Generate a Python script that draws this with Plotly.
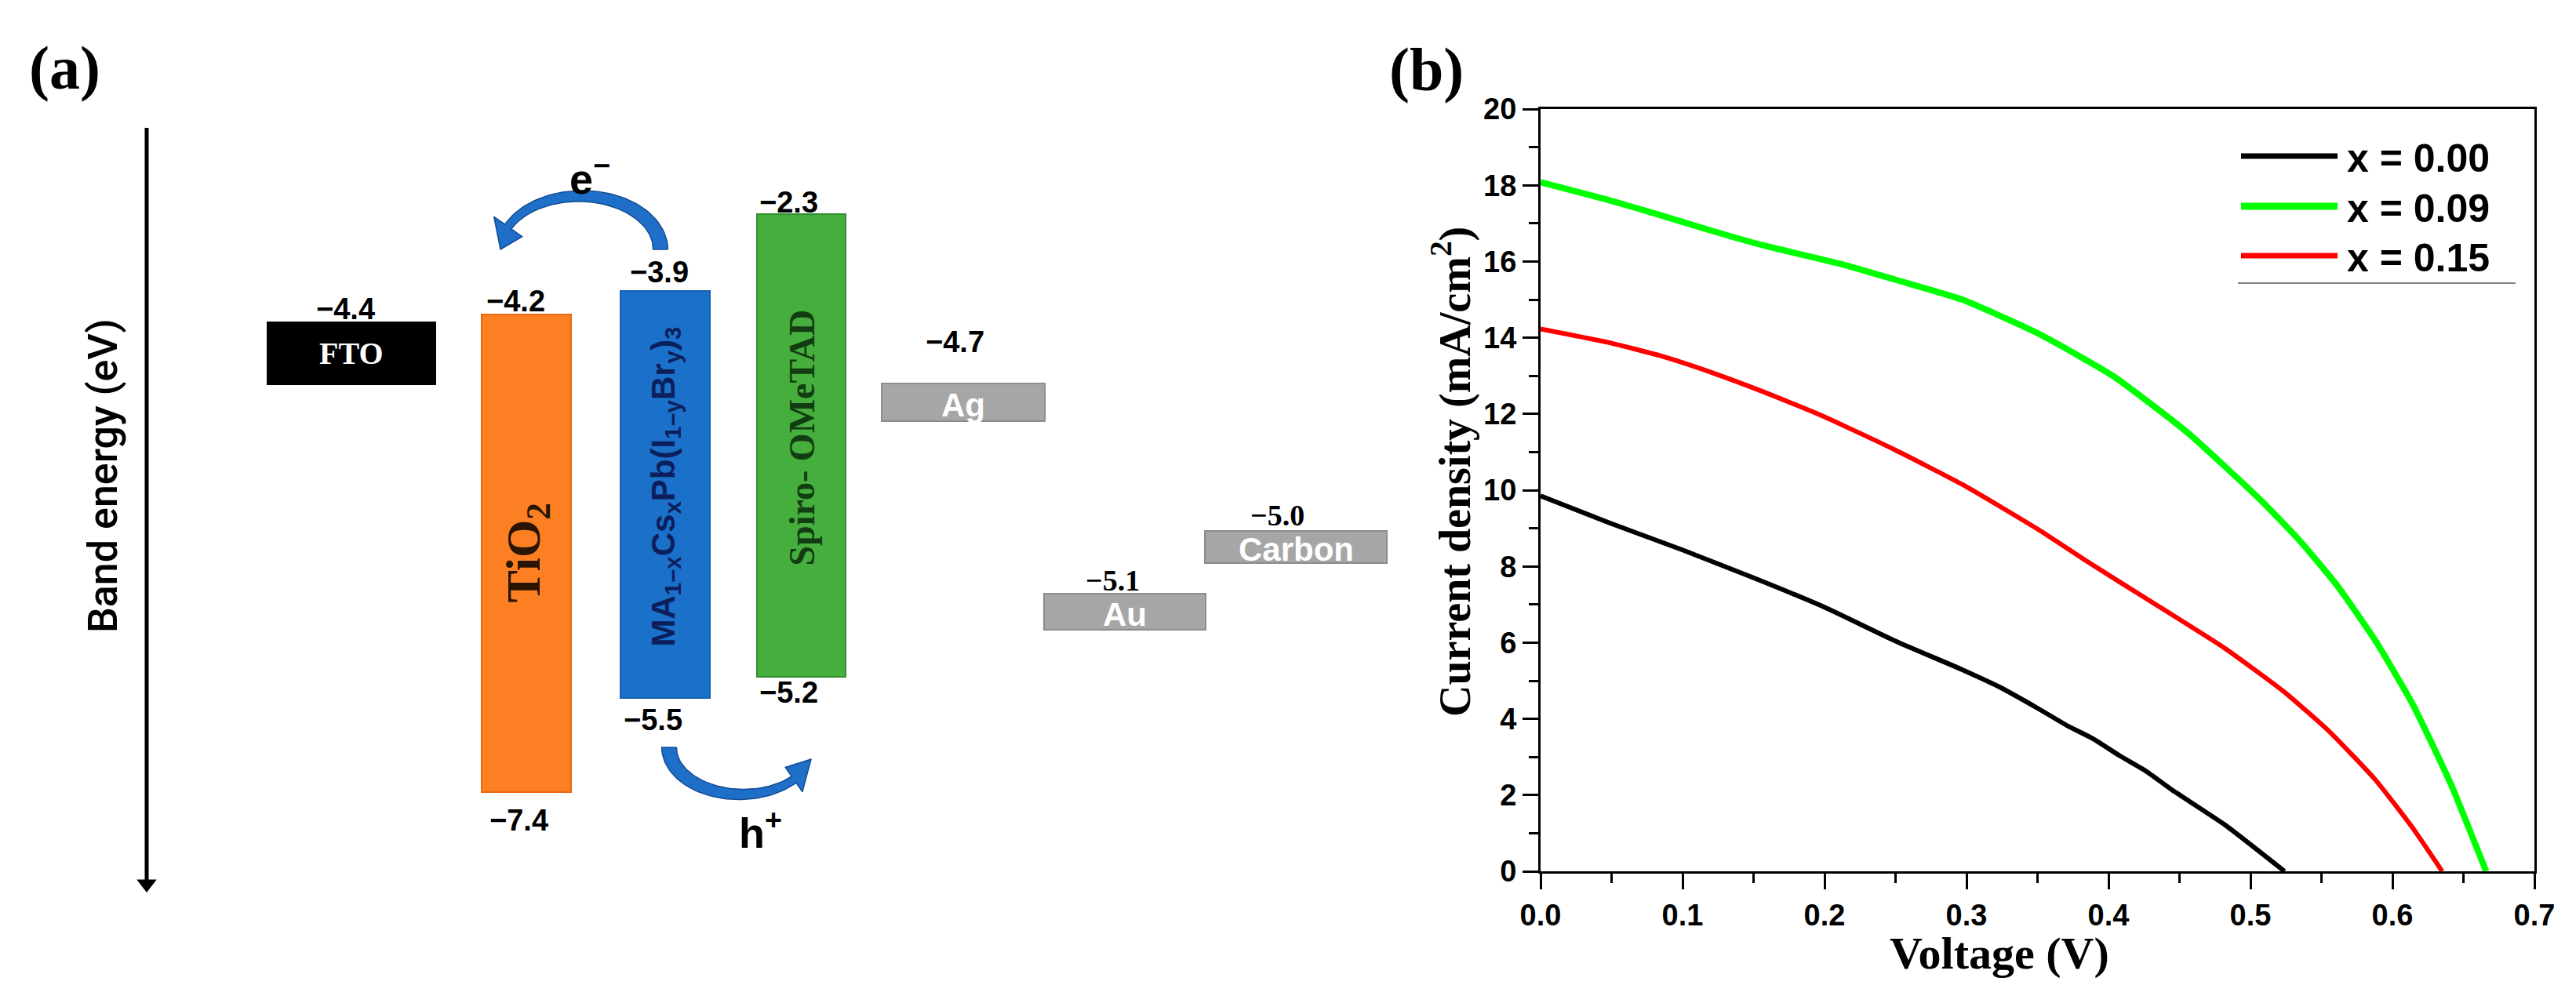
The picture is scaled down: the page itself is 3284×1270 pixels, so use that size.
import numpy as np
import plotly.graph_objects as go

W, H = 3284, 1270

# ---------------- Panel (b): J-V data ----------------
series_names = ["x = 0.00", "x = 0.09", "x = 0.15"]
series_colors = ["#000000", "#00FF00", "#FF0000"]
series_widths = [6, 8, 6]

v_x000 = [0.0, 0.05, 0.10, 0.15, 0.20, 0.25, 0.297, 0.323, 0.35, 0.371, 0.389, 0.408, 0.426, 0.445, 0.482, 0.524]
j_x000 = [9.85, 9.12, 8.43, 7.70, 6.93, 6.04, 5.29, 4.84, 4.28, 3.82, 3.48, 3.03, 2.64, 2.13, 1.22, 0.0]

v_x009 = [0.0, 0.047, 0.084, 0.121, 0.157, 0.213, 0.25, 0.297, 0.35, 0.403, 0.456, 0.508, 0.535, 0.561, 0.588, 0.614, 0.641, 0.666]
j_x009 = [18.08, 17.62, 17.22, 16.80, 16.42, 15.92, 15.52, 15.00, 14.12, 13.00, 11.50, 9.71, 8.66, 7.50, 6.05, 4.40, 2.30, 0.0]

v_x015 = [0.0, 0.047, 0.084, 0.121, 0.157, 0.194, 0.213, 0.25, 0.297, 0.35, 0.387, 0.429, 0.482, 0.524, 0.556, 0.588, 0.614, 0.635]
j_x015 = [14.23, 13.88, 13.53, 13.08, 12.58, 12.02, 11.70, 11.05, 10.15, 8.98, 8.08, 7.10, 5.85, 4.70, 3.65, 2.40, 1.15, 0.0]

x_ticks = [0.0, 0.1, 0.2, 0.3, 0.4, 0.5, 0.6, 0.7]
y_ticks = [0, 2, 4, 6, 8, 10, 12, 14, 16, 18, 20]

# ---------------- Panel (a): band diagram data ----------------
layer_names = ["FTO", "TiO2", "Perovskite", "Spiro-OMeTAD", "Ag", "Au", "Carbon"]
layer_text = ["FTO", "TiO<sub>2</sub>",
              "MA<sub>1−x</sub>Cs<sub>x</sub>Pb(I<sub>1−y</sub>Br<sub>y</sub>)<sub>3</sub>",
              "Spiro- OMeTAD", "Ag", "Au", "Carbon"]
upper_eV = [-4.4, -4.2, -3.9, -2.3, -4.7, -5.1, -5.0]
lower_eV = [None, -7.4, -5.5, -5.2, None, None, None]

# schematic layout of the diagram (diagram units, y grows downward)
box_x0 = [341, 614, 791, 965, 1124, 1331, 1536]
box_x1 = [555, 728, 905, 1078, 1332, 1537, 1768]
box_top = [411, 401, 371, 273, 489, 757, 677]
box_bot = [490, 1010, 890, 863, 537, 803, 718]
box_fill = ["#000000", "#FD7F23", "#1B70C9", "#46AE3C", "#A6A6A6", "#A6A6A6", "#A6A6A6"]
box_edge = ["#000000", "#E8680F", "#1562B5", "#2E8F2E", "#8C8C8C", "#8C8C8C", "#8C8C8C"]
up_lab_pos = [(440, 394), (657, 384), (840, 347), (1005, 258), (1217, 436), (1418, 740), (1628, 657)]
lo_lab_pos = [None, (661, 1046), (832, 918), (1005, 883), None, None, None]

def fmt(e):
    return ("−%.1f" % abs(e))

fig = go.Figure()

centers = [(a + b) / 2 for a, b in zip(box_x0, box_x1)]
widths = [b - a for a, b in zip(box_x0, box_x1)]
heights = [b - t for t, b in zip(box_top, box_bot)]
fig.add_trace(go.Bar(x=centers, y=heights, base=box_top, width=widths,
                     marker=dict(color=box_fill, line=dict(color=box_edge, width=2)),
                     xaxis="x", yaxis="y", showlegend=False, hoverinfo="skip"))

# curved charge-transfer arrows
def curved_arrow(cx, cy, rx, ry, s, t0, th, tt, w0, w1, hw):
    def P(t):
        return np.array([cx + rx * np.cos(t), cy + s * ry * np.sin(t)])
    def N(t):
        d = np.array([-rx * np.sin(t), s * ry * np.cos(t)])
        d = d / np.linalg.norm(d)
        return np.array([-d[1], d[0]])
    ts = np.linspace(t0, th, 60)
    ws = np.linspace(w0, w1, 60)
    left = [P(t) + N(t) * w / 2 for t, w in zip(ts, ws)]
    right = [P(t) - N(t) * w / 2 for t, w in zip(ts, ws)]
    head = [P(th) + N(th) * hw / 2, P(tt), P(th) - N(th) * hw / 2]
    pts = left + head + right[::-1]
    pts.append(pts[0])
    pts = np.array(pts)
    return pts[:, 0], pts[:, 1]

for args in [(740, 318, 102, 68, -1, 0.0, 0.86 * np.pi, 1.0 * np.pi, 19, 10, 44),
             (945, 953, 92, 60, 1, np.pi, 0.24 * np.pi, 0.08 * np.pi, 19, 10, 38)]:
    ax_, ay_ = curved_arrow(*args)
    fig.add_trace(go.Scatter(x=ax_, y=ay_, mode="lines", fill="toself",
                             fillcolor="#1F6FC8", line=dict(color="#124C94", width=1.5),
                             xaxis="x", yaxis="y", showlegend=False, hoverinfo="skip"))

# vertical band-energy arrow
fig.add_trace(go.Scatter(x=[187, 187], y=[163, 1122], mode="lines",
                         line=dict(color="black", width=5), xaxis="x", yaxis="y",
                         showlegend=False, hoverinfo="skip"))
fig.add_trace(go.Scatter(x=[187], y=[1127], mode="markers",
                         marker=dict(symbol="triangle-down", size=22, color="black"),
                         xaxis="x", yaxis="y", showlegend=False, hoverinfo="skip"))

# J-V curves
for name, vx, jy, col, lw in zip(series_names, [v_x000, v_x009, v_x015],
                                 [j_x000, j_x009, j_x015], series_colors, series_widths):
    fig.add_trace(go.Scatter(x=vx, y=jy, mode="lines", name=name,
                             line=dict(color=col, width=lw, shape="spline", smoothing=0.5),
                             xaxis="x2", yaxis="y2", showlegend=False, hoverinfo="skip"))

annotations = []
SANS = "Liberation Sans"
SERIF = "Liberation Serif"

def A(x, y, text, size, color="black", family=SANS, weight="normal", angle=0, xref="x", yref="y",
      xanchor="center", yanchor="middle"):
    annotations.append(dict(x=x, y=y, xref=xref, yref=yref, text=text, showarrow=False,
                            textangle=angle, xanchor=xanchor, yanchor=yanchor,
                            font=dict(family=family, size=size, color=color, weight=weight)))

# energy labels
for i, e in enumerate(upper_eV):
    ser = layer_names[i] in ("Au", "Carbon")
    A(up_lab_pos[i][0], up_lab_pos[i][1], fmt(e), 38, family=SERIF if ser else SANS, weight="bold")
for i, e in enumerate(lower_eV):
    if e is not None:
        A(lo_lab_pos[i][0], lo_lab_pos[i][1], fmt(e), 38, weight="bold")

# layer names inside boxes
A(centers[0], (box_top[0] + box_bot[0]) / 2, layer_text[0], 40, "white", SERIF, "bold")
A(centers[1], (box_top[1] + box_bot[1]) / 2, layer_text[1], 62, "#2A1505", SERIF, "bold", -90)
A(centers[2], (box_top[2] + box_bot[2]) / 2 - 10, layer_text[2], 42, "#0C1F5C", SANS, "bold", -90)
A(centers[3], (box_top[3] + box_bot[3]) / 2 - 10, layer_text[3], 46, "#123D12", SERIF, "bold", -90)
for i in (4, 5, 6):
    A(centers[i], (box_top[i] + box_bot[i]) / 2 + 3, layer_text[i], 42, "white", SANS, "bold")

A(752, 224, "e<sup>−</sup>", 54, weight="bold")
A(969, 1058, "h<sup>+</sup>", 54, weight="bold")
A(131, 607, "Band energy (eV)", 52, family="Roboto", weight=500, angle=-90)

# panel letters
A(82 / W, 1 - 86 / H, "(a)", 78, family=SERIF, weight="bold", xref="paper", yref="paper")
A(1818 / W, 1 - 88 / H, "(b)", 78, family=SERIF, weight="bold", xref="paper", yref="paper")

# axis titles of panel (b)
A(1851 / W, 1 - 602 / H, "Current density (mA/cm<sup>2</sup>)", 56, family=SERIF, weight="bold",
  angle=-90, xref="paper", yref="paper")
A(2549 / W, 1 - 1215 / H, "Voltage (V)", 58, family=SERIF, weight="bold", xref="paper", yref="paper")

# custom legend
shapes = []
leg_y = [199, 263, 326]
for name, col, lw, yy in zip(series_names, series_colors, series_widths, leg_y):
    shapes.append(dict(type="line", xref="paper", yref="paper", x0=2857 / W, x1=2980 / W,
                       y0=1 - yy / H, y1=1 - yy / H, line=dict(color=col, width=lw + 1)))
    A(2990 / W, 1 - (yy + 3) / H, name, 50, weight="bold", xref="paper", yref="paper", xanchor="left")
shapes.append(dict(type="line", xref="paper", yref="paper", x0=2853 / W, x1=3207 / W,
                   y0=1 - 361 / H, y1=1 - 361 / H, line=dict(color="#808080", width=2)))

axis_common = dict(showline=True, linewidth=3, linecolor="black", mirror=True,
                   ticks="outside", ticklen=20, tickwidth=3, tickcolor="black",
                   showgrid=False, zeroline=False, automargin=False,
                   tickfont=dict(family=SANS, size=38, color="black", weight="bold"))

fig.update_layout(
    template="none",
    width=W, height=H, autosize=False,
    margin=dict(l=0, r=0, t=0, b=0, pad=0),
    paper_bgcolor="white", plot_bgcolor="white",
    showlegend=False,
    font=dict(family=SANS),
    xaxis=dict(domain=[0, 0.56], range=[0, 0.56 * W], visible=False, fixedrange=True, automargin=False),
    yaxis=dict(domain=[0, 1], range=[H, 0], visible=False, fixedrange=True, automargin=False),
    xaxis2=dict(domain=[1964 / W, 3231 / W], range=[0, 0.7], anchor="y2",
                tickvals=x_ticks, tickformat=".1f",
                minor=dict(ticks="outside", ticklen=12, tickwidth=3, tickcolor="black", dtick=0.05),
                **axis_common),
    yaxis2=dict(domain=[1 - 1111 / H, 1 - 139 / H], range=[0, 20], anchor="x2",
                tickvals=y_ticks,
                minor=dict(ticks="outside", ticklen=12, tickwidth=3, tickcolor="black", dtick=1),
                **axis_common),
    annotations=annotations,
    shapes=shapes,
)

fig.write_html("out.html", config={"displayModeBar": False},
               post_script="document.body.style.margin='0';")
